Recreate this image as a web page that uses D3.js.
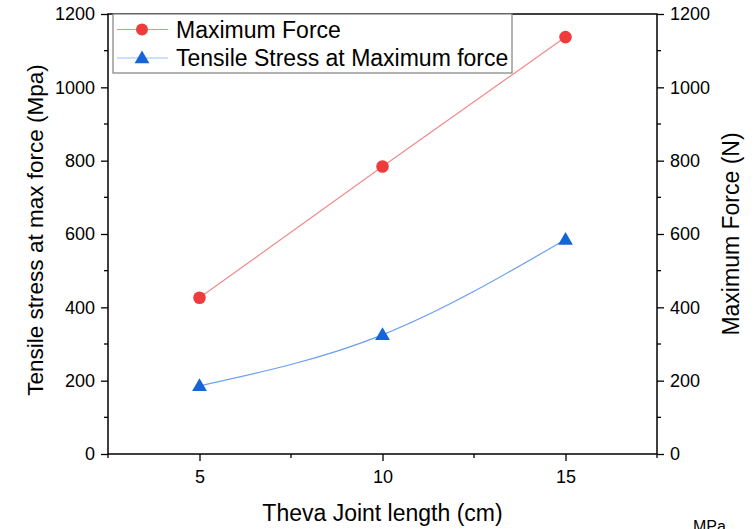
<!DOCTYPE html>
<html>
<head>
<meta charset="utf-8">
<script src="https://cdn.jsdelivr.net/npm/d3@7"></script>
<style>
  body { margin: 0; background: #fff; }
  text { font-family: "Liberation Sans", Arial, sans-serif; fill: #000; }
</style>
</head>
<body>
<div id="chart"></div>
<script>
// data
var lengths = [5, 10, 15];
var maxForce = [426, 784, 1137];      // N, right axis
var tensileStress = [186, 325, 585];  // MPa, left axis
var xTicks = [5, 10, 15];
var yTicks = [0, 200, 400, 600, 800, 1000, 1200];

var width = 756, height = 529;
var margin = {left: 108, right: 99, top: 14, bottom: 74};

var svg = d3.select("#chart")
  .append("svg")
    .attr("width", width)
    .attr("height", height);

var x = d3.scaleLinear().domain([2.5, 17.5]).range([margin.left, width - margin.right]);
var yL = d3.scaleLinear().domain([0, 1200]).range([height - margin.bottom - 1, margin.top]);
var yR = d3.scaleLinear().domain([0, 1200]).range([height - margin.bottom - 1, margin.top]);

var x0 = margin.left, x1 = width - margin.right;
var y0 = yL(0), y1 = yL(1200);

// minor ticks first
var minorX = [2.5, 7.5, 12.5, 17.5];
var minorY = [100, 300, 500, 700, 900, 1100];

svg.selectAll(".mx").data(minorX).enter().append("line")
  .attr("x1", d => x(d)).attr("x2", d => x(d))
  .attr("y1", y0).attr("y2", y0 + 4)
  .attr("stroke", "#000").attr("stroke-width", 1.3);
svg.selectAll(".myl").data(minorY).enter().append("line")
  .attr("x1", x0 - 4).attr("x2", x0)
  .attr("y1", d => yL(d)).attr("y2", d => yL(d))
  .attr("stroke", "#000").attr("stroke-width", 1.3);
svg.selectAll(".myr").data(minorY).enter().append("line")
  .attr("x1", x1).attr("x2", x1 + 4)
  .attr("y1", d => yR(d)).attr("y2", d => yR(d))
  .attr("stroke", "#000").attr("stroke-width", 1.3);

// axes
var fmt = d3.format("d");
var xAxis = svg.append("g").attr("transform", "translate(0," + y0 + ")")
  .call(d3.axisBottom(x).tickValues(xTicks).tickFormat(fmt).tickSize(7).tickPadding(9));
var lAxis = svg.append("g").attr("transform", "translate(" + x0 + ",0)")
  .call(d3.axisLeft(yL).tickValues(yTicks).tickFormat(fmt).tickSize(7).tickPadding(6));
var rAxis = svg.append("g").attr("transform", "translate(" + x1 + ",0)")
  .call(d3.axisRight(yR).tickValues(yTicks).tickFormat(fmt).tickSize(7).tickPadding(6));

[xAxis, lAxis, rAxis].forEach(function(g) {
  g.select(".domain").remove();
  g.selectAll("line").attr("stroke", "#000").attr("stroke-width", 1.3);
  g.selectAll("text").style("font-size", "18px").attr("fill", "#000");
});

// frame
svg.append("rect")
  .attr("x", x0).attr("y", y1)
  .attr("width", x1 - x0).attr("height", y0 - y1)
  .attr("fill", "none").attr("stroke", "#000").attr("stroke-width", 1.5);

// lines
var redLine = d3.line().x((d, i) => x(lengths[i])).y(d => yR(d));
var blueLine = d3.line().x((d, i) => x(lengths[i])).y(d => yL(d)).curve(d3.curveNatural);

svg.append("path").datum(maxForce)
  .attr("d", redLine)
  .attr("fill", "none").attr("stroke", "#f28a8a").attr("stroke-width", 1.2);
svg.append("path").datum(tensileStress)
  .attr("d", blueLine)
  .attr("fill", "none").attr("stroke", "#6a9ff0").attr("stroke-width", 1.2);

var tri = d3.symbol().type(d3.symbolTriangle).size(95);

svg.selectAll(".dot").data(maxForce).enter().append("circle")
  .attr("cx", (d, i) => x(lengths[i])).attr("cy", d => yR(d))
  .attr("r", 6.3).attr("fill", "#ef3b3b");
svg.selectAll(".tri").data(tensileStress).enter().append("path")
  .attr("d", tri)
  .attr("transform", (d, i) => "translate(" + x(lengths[i]) + "," + (yL(d) + 1) + ")")
  .attr("fill", "#1565d8");

// legend
var leg = svg.append("g");
leg.append("rect")
  .attr("x", 113).attr("y", 14).attr("width", 399).attr("height", 59)
  .attr("fill", "#fff").attr("stroke", "#808080").attr("stroke-width", 1.2);
var legItems = [
  {label: "Maximum Force", color: "#f28a8a", mark: "#ef3b3b", shape: "circle"},
  {label: "Tensile Stress at Maximum force", color: "#9cc0f5", mark: "#1565d8", shape: "tri"}
];
legItems.forEach(function(it, i) {
  var cy = 29.5 + i * 28.5;
  leg.append("line").attr("x1", 117).attr("x2", 168).attr("y1", cy).attr("y2", cy)
    .attr("stroke", it.color).attr("stroke-width", 1.2);
  if (it.shape === "circle") {
    leg.append("circle").attr("cx", 142).attr("cy", cy).attr("r", 6).attr("fill", it.mark);
  } else {
    leg.append("path").attr("d", tri).attr("transform", "translate(142," + (cy + 1) + ")").attr("fill", it.mark);
  }
  leg.append("text").attr("x", 176).attr("y", cy + 8)
    .style("font-size", "23px").text(it.label);
});

// axis titles
svg.append("text")
  .attr("x", (x0 + x1) / 2).attr("y", 521)
  .attr("text-anchor", "middle").style("font-size", "23px")
  .text("Theva Joint length (cm)");
svg.append("text")
  .attr("transform", "translate(43,230) rotate(-90)")
  .attr("text-anchor", "middle").style("font-size", "22.5px")
  .text("Tensile stress at max force (Mpa)");
svg.append("text")
  .attr("transform", "translate(739,234) rotate(-90)")
  .attr("text-anchor", "middle").style("font-size", "23px")
  .text("Maximum Force (N)");

svg.append("text")
  .attr("x", 693).attr("y", 532)
  .style("font-size", "16px")
  .text("MPa");
</script>
</body>
</html>
